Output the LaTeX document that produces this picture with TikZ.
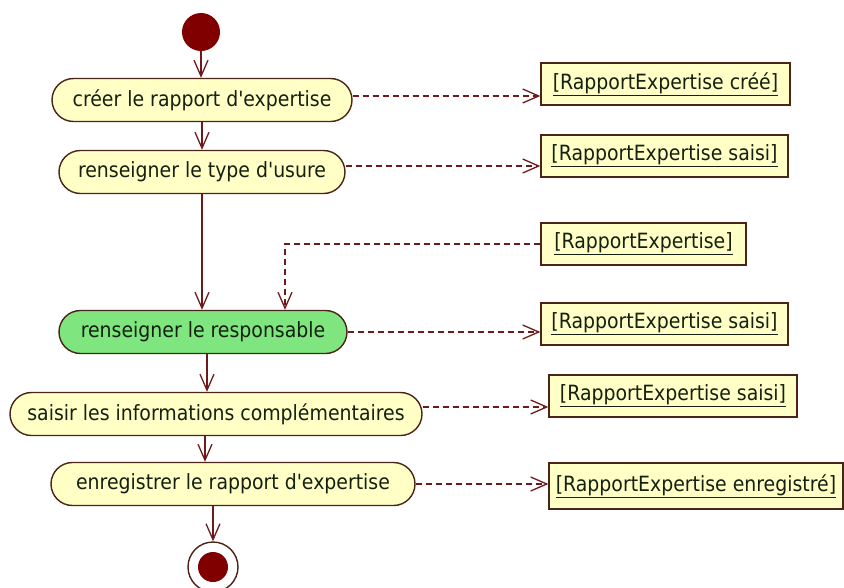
\documentclass[tikz,border=0pt]{standalone}
\usepackage{fontspec}
\newfontfamily\uifont{DejaVu Sans Condensed}
\usetikzlibrary{arrows.meta,shapes.misc}
\definecolor{actfill}{HTML}{FFFFC6}
\definecolor{brd}{HTML}{4A2418}
\definecolor{grn}{HTML}{7FE57F}
\definecolor{arr}{HTML}{6E1A1A}
\definecolor{dot}{HTML}{800000}
\definecolor{txt}{HTML}{142010}
\begin{document}
\begin{tikzpicture}[x=1pt,y=-1pt,
  act/.style={rounded rectangle, draw=brd, line width=1.4pt, fill=actfill, minimum height=43pt, inner sep=0pt, font=\uifont\fontsize{21}{24}\selectfont, text=txt},
  obj/.style={rectangle, draw=brd, line width=1.4pt, fill=actfill, minimum height=42pt, inner sep=0pt, font=\uifont\fontsize{21}{24}\selectfont, text=txt},
  flow/.style={draw=arr, line width=1.3pt, -{Straight Barb[length=16pt,width=14pt]}},
  dep/.style={flow, dash pattern=on 6pt off 4pt}]
\useasboundingbox (0,0) rectangle (844,587);
\node[circle, fill=dot, minimum size=38pt, inner sep=0pt] (start) at (201,32) {};
\node[act, minimum width=300pt] (a1) at (202,100) {créer le rapport d'expertise};
\node[act, minimum width=286pt] (a2) at (202,172) {renseigner le type d'usure};
\node[act, minimum width=288pt, fill=grn] (a3) at (203,332) {renseigner le responsable};
\node[act, minimum width=412pt] (a4) at (216,414) {saisir les informations complémentaires};
\node[act, minimum width=364pt] (a5) at (233,484) {enregistrer le rapport d'expertise};
\node[circle, draw=brd, line width=1.4pt, fill=white, minimum size=50pt, inner sep=0pt] (end) at (213,567) {};
\node[circle, fill=dot, minimum size=30pt, inner sep=0pt] (endin) at (end.center) {};

\node[obj, minimum width=249pt] (o1) at (665.5,84) {\underline{[RapportExpertise créé]}};
\node[obj, minimum width=247pt] (o2) at (664.5,156) {\underline{[RapportExpertise saisi]}};
\node[obj, minimum width=205pt] (o3) at (643.5,244) {\underline{[RapportExpertise]}};
\node[obj, minimum width=247pt] (o4) at (664.5,324) {\underline{[RapportExpertise saisi]}};
\node[obj, minimum width=248pt] (o5) at (673,396) {\underline{[RapportExpertise saisi]}};
\node[obj, minimum width=294pt, minimum height=46pt] (o6) at (696,486) {\underline{[RapportExpertise enregistré]}};

\draw[flow] (start.south) -- (start.south |- a1.north);
\draw[flow] (a1.south) -- (a2.north);
\draw[flow] (a2.south) -- (a2.south |- a3.north);
\draw[flow] ([xshift=4pt]a3.south) -- ([xshift=4pt]a3.south |- a4.north);
\draw[flow] ([xshift=2pt]a3.south |- a4.south) -- ([xshift=2pt]a3.south |- a5.north);
\draw[flow] (end.north |- a5.south) -- (end.north);

\draw[dep] ([yshift=4pt]a1.east) -- ([yshift=4pt]a1.east -| o1.west);
\draw[dep] ([yshift=6pt]a2.east) -- ([yshift=6pt]a2.east -| o2.west);
\draw[dep] (o3.west) -| ([xshift=82pt]a3.north);
\draw[dep] (a3.east) -- (a3.east -| o4.west);
\draw[dep] ([yshift=7pt]a4.east) -- ([yshift=7pt]a4.east -| o5.west);
\draw[dep] (a5.east) -- (a5.east -| o6.west);
\end{tikzpicture}
\end{document}
